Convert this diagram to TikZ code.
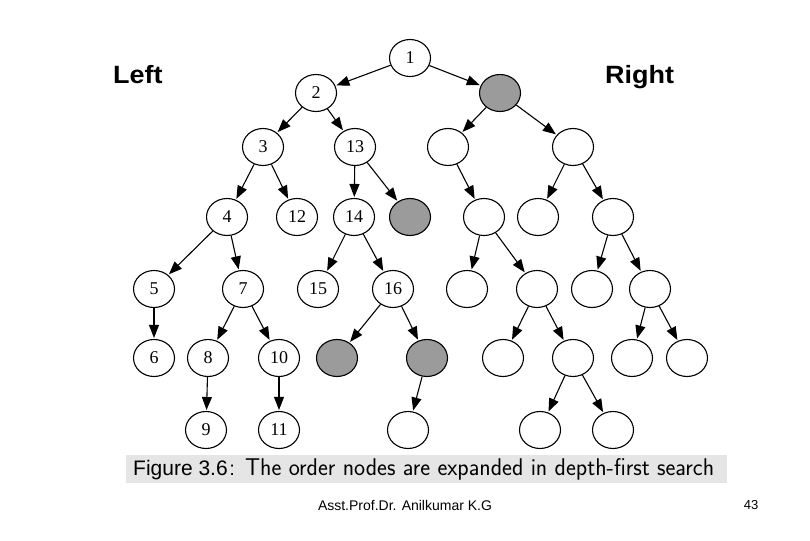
\documentclass[tikz,border=0pt]{standalone}
\usepackage{fontspec}
\setmainfont{Liberation Serif}
\newfontfamily\arialfont{Liberation Sans}
\usetikzlibrary{shapes.geometric,arrows.meta}
\definecolor{nodegray}{RGB}{155,155,155}
\definecolor{capgray}{RGB}{229,229,229}
\tikzset{
  tn/.style={ellipse, draw=black, line width=1.1pt, fill=white, minimum width=41pt, minimum height=37pt, inner sep=0pt, font=\fontsize{18}{18}\selectfont},
  gn/.style={tn, fill=nodegray},
  ed/.style={line width=1.1pt, -{Triangle[length=13pt,width=10pt]}, shorten >=1pt},
  side/.style={anchor=base west, inner sep=0pt, font=\arialfont\bfseries\fontsize{25}{25}\selectfont}
}
\begin{document}
\begin{tikzpicture}[x=1pt,y=-1pt]
\useasboundingbox[fill=white] (0,0) rectangle (810,540);
% labels
\node[side] (lft) at (113,84) {\scalebox{1.08}[1]{Left}};
\node[side] (rgt) at (605,84) {\scalebox{1.08}[1]{Right}};
% level 0-1
\node[tn] (n1) at (410,58) {1};
\node[tn] (n2) at (316,93) {2};
\node[gn] (g1) at (500,93) {};
% level 2
\node[tn] (n3) at (263,147) {3};
\node[tn] (n13) at (355,147) {13};
\node[tn] (ra) at (448,147) {};
\node[tn] (rb) at (573,147) {};
% level 3
\node[tn] (n4) at (227,217) {4};
\node[tn] (n12) at (297,217) {12};
\node[tn] (n14) at (354,217) {14};
\node[gn] (g2) at (410,217) {};
\node[tn] (raa) at (484,217) {};
\node[tn] (rba) at (538,217) {};
\node[tn] (rbb) at (613,217) {};
% level 4
\node[tn] (n5) at (154,289) {5};
\node[tn] (n7) at (243,289) {7};
\node[tn] (n15) at (318,289) {15};
\node[tn] (n16) at (393,289) {16};
\node[tn] (raaa) at (467,289) {};
\node[tn] (raab) at (537,289) {};
\node[tn] (rbba) at (592,289) {};
\node[tn] (rbbb) at (650,289) {};
% level 5
\node[tn] (n6) at (154,358) {6};
\node[tn] (n8) at (208,358) {8};
\node[tn] (n10) at (279,358) {10};
\node[gn] (g3) at (337,358) {};
\node[gn] (g4) at (427,358) {};
\node[tn] (raaba) at (503,358) {};
\node[tn] (raabb) at (573,358) {};
\node[tn] (rbbba) at (632,358) {};
\node[tn] (rbbbb) at (687,358) {};
% level 6
\node[tn] (n9) at (206,430) {9};
\node[tn] (n11) at (279,430) {11};
\node[tn] (g4a) at (408,430) {};
\node[tn] (raabba) at (540,430) {};
\node[tn] (raabbb) at (613,430) {};
% edges
\foreach \a/\b in {n1/n2, n1/g1, n2/n3, n2/n13, g1/ra, g1/rb, n3/n4, n3/n12, n13/n14, n13/g2,
  ra/raa, rb/rba, rb/rbb, n4/n5, n4/n7, n14/n15, n14/n16, raa/raaa, raa/raab, rbb/rbba, rbb/rbbb,
  n5/n6, n7/n8, n7/n10, n16/g3, n16/g4, raab/raaba, raab/raabb, rbbb/rbbba, rbbb/rbbbb,
  n8/n9, n10/n11, g4/g4a, raabb/raabba, raabb/raabbb}
  \draw[ed] (\a) -- (\b);
% caption
\fill[capgray] (126,455) rectangle (727,483);
\node[anchor=base west, inner sep=0pt, font=\arialfont\fontsize{21}{21}\selectfont] (figl) at (133,475) {Figure 3.6};
\node[anchor=base west, inner sep=0pt, font=\sffamily\fontsize{23.5}{23.5}\selectfont] (capt) at (229,475) {\scalebox{1}[1.03]{: The order nodes are expanded in depth-first search}};
% footer
\node[anchor=base, inner sep=0pt, font=\arialfont\fontsize{14}{14}\selectfont] (foot) at (405,510) {Asst.Prof.Dr. Anilkumar K.G};
\node[anchor=base, inner sep=0pt, font=\arialfont\fontsize{13}{13}\selectfont] (pg) at (751,509) {43};
\end{tikzpicture}
\end{document}
